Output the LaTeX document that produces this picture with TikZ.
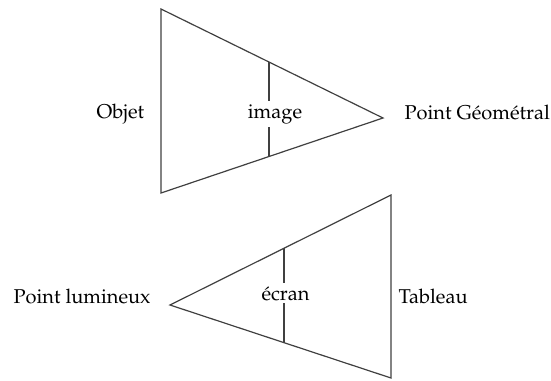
\documentclass[tikz,border=0pt]{standalone}
\usepackage[T1]{fontenc}
\usepackage{mathpazo}
\usetikzlibrary{calc}

\begin{document}
\begin{tikzpicture}[x=0.5pt,y=-0.5pt,line width=0.6pt,
  edge/.style={draw=black!75},
  lbl/.style={inner sep=0pt,anchor=base west},
  mid/.style={inner sep=1.5pt,anchor=base,fill=white}]
\useasboundingbox (0,0) rectangle (551,380);

% upper triangle
\coordinate (objtop) at (161,9);
\coordinate (objbot) at (161,193);
\coordinate (geom) at (383,118);
\draw[edge] (objtop) -- (objbot) -- (geom) -- cycle;
\coordinate (imgtop) at ($(objtop)!0.4865!(geom)$);
\coordinate (imgbot) at ($(objbot)!0.4865!(geom)$);
\draw[edge] (imgtop) -- (imgbot);
\node[mid] (image) at (275,118) {image};

\node[lbl] (objet) at (96,118) {Objet};
\node[lbl] (pointgeom) at (404,119) {Point G\'eom\'etral};

% lower triangle
\coordinate (lum) at (170,305);
\coordinate (tabtop) at (391,195);
\coordinate (tabbot) at (391,378);
\draw[edge] (lum) -- (tabtop) -- (tabbot) -- cycle;
\coordinate (ecrtop) at ($(lum)!0.516!(tabtop)$);
\coordinate (ecrbot) at ($(lum)!0.516!(tabbot)$);
\draw[edge] (ecrtop) -- (ecrbot);
\node[mid] (ecran) at (285.5,300) {\'ecran};

\node[lbl] (pointlum) at (13,303) {Point lumineux};
\node[lbl] (tableau) at (398,303) {Tableau};

\end{tikzpicture}
\end{document}
